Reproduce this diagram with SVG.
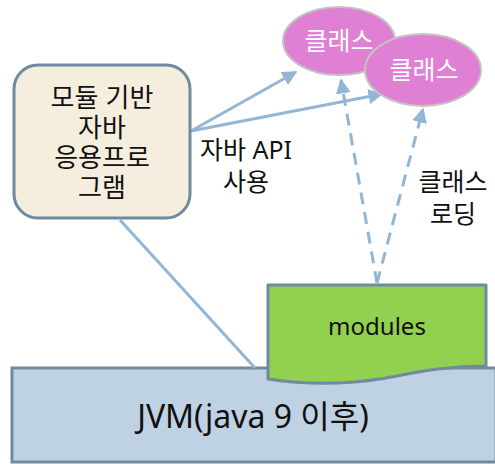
<svg xmlns="http://www.w3.org/2000/svg" width="495" height="464" viewBox="0 0 495 464">
<style>
text{font-family:"Noto Sans","Noto Sans CJK KR",sans-serif;text-anchor:middle;fill:#111}
.ko{font-family:"Liberation Sans","Noto Sans CJK KR",sans-serif}
.conn{stroke:#93b6d6;stroke-width:3;fill:none}
.dash{stroke-dasharray:12,8}
.cls{fill:#e080d4;stroke:#c4c4c4;stroke-width:2}
.cls-t{fill:#fff;font-size:25px}
</style>
<defs>
<marker id="ah" viewBox="0 0 10 10" refX="9" refY="5" markerWidth="5" markerHeight="5" orient="auto" markerUnits="strokeWidth">
<path d="M0,0 L10,5 L0,10 z" fill="#93b6d6"/>
</marker>
</defs>
<g id="jvm">
<rect x="12" y="368" width="484" height="94" fill="#bfd2e4" stroke="#6f8aa1" stroke-width="3"/>
<text x="253" y="428" font-size="32">JVM(java 9 이후)</text>
</g>
<g id="modules">
<path d="M268,285 L486,285 L486,366 C440,366 410,374 380,379 C340,385 300,384 268,379 Z" fill="#92d050" stroke="#6f8aa1" stroke-width="3" stroke-linejoin="round"/>
<text x="377" y="335" font-size="24">modules</text>
</g>
<g id="connectors">
<line class="conn" x1="120" y1="220" x2="255" y2="368" stroke-width="2"/>
<line class="conn" x1="191" y1="131" x2="296" y2="72" marker-end="url(#ah)"/>
<line class="conn" x1="191" y1="131" x2="382" y2="94" marker-end="url(#ah)"/>
<line class="conn dash" x1="377" y1="283" x2="341" y2="80" marker-end="url(#ah)"/>
<line class="conn dash" x1="377" y1="283" x2="423" y2="109" marker-end="url(#ah)"/>
</g>
<g id="app">
<rect x="14" y="65" width="176" height="153" rx="24" fill="#f5eedf" stroke="#6f8aa1" stroke-width="3"/>
<text class="ko" x="102" y="107" font-size="26">모듈 기반</text>
<text class="ko" x="102" y="137" font-size="26">자바</text>
<text class="ko" x="102" y="167" font-size="26">응용프로</text>
<text class="ko" x="102" y="197" font-size="26">그램</text>
</g>
<g id="class1">
<ellipse class="cls" cx="339" cy="41" rx="56" ry="34"/>
<text class="cls-t" x="339" y="50">클래스</text>
</g>
<g id="class2">
<ellipse class="cls" cx="423" cy="70" rx="58" ry="36"/>
<text class="cls-t" x="424" y="79">클래스</text>
</g>
<g id="labels">
<text font-size="25"><tspan x="246" y="159">자바 API</tspan><tspan x="246" y="191">사용</tspan></text>
<text font-size="25"><tspan x="453" y="191">클래스</tspan><tspan x="453" y="223">로딩</tspan></text>
</g>
</svg>
